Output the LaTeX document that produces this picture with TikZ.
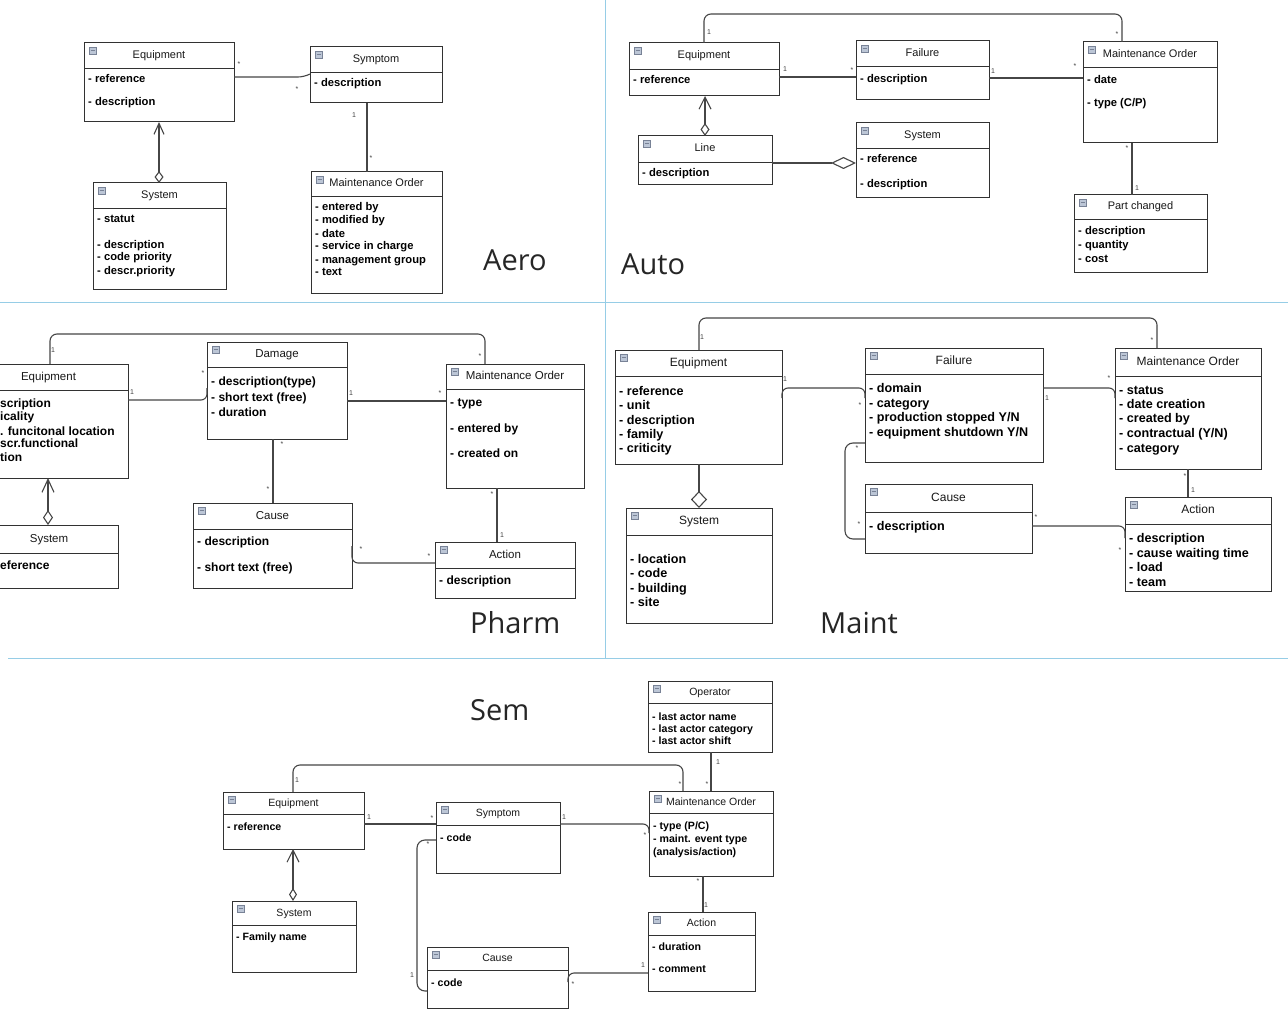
\documentclass[tikz,border=0pt]{standalone}
\usepackage{fontspec}
\setmainfont{Liberation Sans}
\newfontfamily\paneltitlefont{Open Sans}
\usetikzlibrary{arrows.meta,calc}
\definecolor{boxcol}{RGB}{50,50,50}
\definecolor{linecol}{RGB}{70,70,70}
\definecolor{divcol}{RGB}{150,205,230}
\definecolor{iconfill}{RGB}{188,198,214}
\definecolor{icondraw}{RGB}{120,130,150}
\newcommand\tsz{11}
\newcommand\asz{11}
\newcommand\attrx{4}
\tikzset{
 cls/.style={draw=boxcol, line width=1pt, inner sep=0pt, outer sep=0pt, fill=white},
 ttl/.style={inner sep=0pt, font=\fontsize{\tsz}{\tsz}\selectfont, text height=8pt, text depth=2pt, text=black!90},
 attr/.style={inner sep=0pt, font=\fontsize{\asz}{\asz}\selectfont\bfseries, text height=8pt, text depth=2pt, text=black},
 mult/.style={inner sep=0pt, font=\fontsize{7}{7}\selectfont, text=black!75},
 conn/.style={draw=linecol, line width=1.1pt, rounded corners=6pt},
 ptitle/.style={inner sep=0pt, anchor=base west, font=\paneltitlefont\fontsize{29}{29}\selectfont, text=black!85},
 divider/.style={draw=divcol, line width=1pt},
 aggA/.style={{Diamond[open,length=12pt,width=9pt]}-{Straight Barb[length=11pt,width=10pt]}},
 aggU/.style={{Diamond[open,length=13pt,width=9pt]}-{Straight Barb[length=12pt,width=12pt]}},
 aggP/.style={{Diamond[open,length=15pt,width=10pt]}-{Straight Barb[length=13pt,width=12pt]}},
 aggS/.style={{Diamond[open,length=13pt,width=8pt]}-{Straight Barb[length=12pt,width=12pt]}},
 dmdU/.style={-{Diamond[open,length=25pt,width=12pt]}},
 dmdM/.style={{Diamond[open,length=17pt,width=16pt]}-},
}
% #1 name, #2 x, #3 y, #4 w, #5 h, #6 header height, #7 title, #8 list y/text
\newcommand\ucls[8]{%
 \node[cls, minimum width=#4pt, minimum height=#5pt, anchor=north west] (#1) at (#2,#3) {};
 \draw[boxcol, line width=0.9pt] ($(#1.north west)+(0,#6)$) -- ($(#1.north east)+(0,#6)$);
 \node[ttl] (#1-t) at ($(#1.north)+(0,#6/2)$) {#7};
 \fill[iconfill, draw=icondraw, line width=0.4pt] ($(#1.north west)+(5,4)$) rectangle ++(7,7);
 \draw[icondraw, line width=0.7pt] ($(#1.north west)+(6.5,7.5)$) -- ++(4,0);
 \foreach \aY/\aT in {#8} {\node[attr, anchor=west] at (#2+\attrx, \aY) {\aT};}
}
\newcommand\ml[3]{\node[mult] at (#1,#2) {#3};}
\begin{document}
\begin{tikzpicture}[x=1pt,y=-1pt]
\useasboundingbox (0,0) rectangle (1288,1011);
\clip (0,0) rectangle (1288,1011);
\fill[white] (0,0) rectangle (1288,1011);

% dividers
\draw[divider] (605,0) -- (605,658);
\draw[divider] (0,302) -- (1288,302);
\draw[divider] (8,658) -- (1288,658);

% ================= Aero
\renewcommand\tsz{11}\renewcommand\asz{11.2}
\ucls{aEq}{84}{43}{150}{79}{25}{Equipment}{80/- reference, 103/- description}
\ucls{aSym}{310}{47}{132}{56}{25}{Symptom}{84/- description}
\ucls{aSys}{93}{183}{133}{106}{25}{System}{220/- statut, 245/- description, 258/- code priority, 271/- descr.priority}
\ucls{aMO}{311}{172}{131}{121}{24}{Maintenance Order}{208/- entered by, 221/- modified by, 234/- date, 247/- service in charge, 260/- management group, 273/- text}
\draw[conn] (aEq.east |- 0,77) -- (304,77) -- (aSym.west |- 0,74);
\draw[conn] (367,0 |- aSym.south) -- (367,0 |- aMO.north);
\draw[conn, aggA] (159,0 |- aSys.north) -- (159,0 |- aEq.south);
\ml{239}{64}{*}\ml{297}{89}{*}\ml{354}{115}{1}\ml{371}{158}{*}
\node[ptitle] (tAero) at (483,270) {Aero};

% ================= Auto
\renewcommand\tsz{11}\renewcommand\asz{11.2}
\ucls{uEq}{629}{43}{150}{53}{26}{Equipment}{81/- reference}
\ucls{uFa}{856}{41}{133}{59}{25}{Failure}{80/- description}
\ucls{uSys}{856}{123}{133}{75}{25}{System}{160/- reference, 185/- description}
\ucls{uLine}{638}{136}{134}{49}{26}{Line}{174/- description}
\ucls{uMO}{1083}{42}{134}{101}{25}{Maintenance Order}{81/- date, 104/{- type (C/P)}}
\ucls{uPart}{1074}{195}{133}{77}{24}{Part changed}{232/- description, 245/- quantity, 259/- cost}
\draw[conn, rounded corners=7pt] (uEq.north) -- (uEq.north |- 0,14) -- (1122,14) -- (1122,0 |- uMO.north);
\draw[conn] (uEq.east |- 0,77) -- (uFa.west |- 0,77);
\draw[conn] (uFa.east |- 0,78) -- (uMO.west |- 0,78);
\draw[conn, aggU] (uLine.north) -- (uLine.north |- uEq.south);
\draw[conn, dmdU] (uLine.east |- 0,163) -- (uSys.west |- 0,163);
\draw[conn] (1132,0 |- uMO.south) -- (1132,0 |- uPart.north);
\ml{709}{32}{1}\ml{1117}{34}{*}\ml{785}{69}{1}\ml{852}{70}{*}\ml{993}{71}{1}\ml{1075}{66}{*}\ml{1127}{148}{*}\ml{1137}{188}{1}
\node[ptitle] (tAuto) at (621,275) {Auto};

% ================= Pharm
\renewcommand\tsz{11.5}\renewcommand\asz{12}
\renewcommand\attrx{31}
\ucls{pEq}{-31}{364}{159}{114}{26}{Equipment}{404/scription, 417/icality, 432/. funcitonal location, 444/scr.functional, 458/tion}
\renewcommand\attrx{20}
\ucls{pSy}{-20}{525}{138}{63}{28}{System}{566/eference}
\renewcommand\attrx{4}
\ucls{pDa}{207}{342}{140}{97}{25}{Damage}{382/- description(type), 398/- short text (free), 413/- duration}
\ucls{pCa}{193}{503}{159}{85}{26}{Cause}{542/- description, 568/- short text (free)}
\ucls{pMO}{446}{364}{138}{124}{25}{Maintenance Order}{403/- type, 429/- entered by, 454/- created on}
\ucls{pAc}{435}{542}{140}{56}{26}{Action}{581/- description}
\draw[conn, rounded corners=7pt] (50,0 |- pEq.north) -- (50,334) -- (485,334) -- (485,0 |- pMO.north);
\draw[conn] (pEq.east |- 0,400) -- (207,400) -- (pDa.west |- 0,388);
\draw[conn] (pDa.east |- 0,401) -- (pMO.west |- 0,401);
\draw[conn] (273,0 |- pDa.south) -- (273,0 |- pCa.north);
\draw[conn] (pCa.east |- 0,546) -- (352,563) -- (pAc.west |- 0,563);
\draw[conn] (497,0 |- pMO.south) -- (497,0 |- pAc.north);
\draw[conn, aggP] (48,0 |- pSy.north) -- (48,0 |- pEq.south);
\ml{53}{350}{1}\ml{480}{356}{*}\ml{132}{392}{1}\ml{203}{373}{*}\ml{351}{393}{1}\ml{440}{393}{*}
\ml{282}{444}{*}\ml{268}{489}{*}\ml{361}{549}{*}\ml{429}{556}{*}\ml{492}{494}{*}\ml{502}{535}{1}
\node[ptitle] (tPharm) at (470,633) {Pharm};

% ================= Maint
\renewcommand\tsz{12}\renewcommand\asz{12.6}
\ucls{mEq}{615}{350}{167}{114}{26}{Equipment}{392/- reference, 406/- unit, 421/- description, 435/- family, 449/- criticity}
\ucls{mSy}{626}{508}{146}{115}{27}{System}{560/- location, 574/- code, 589/- building, 603/- site}
\ucls{mFa}{865}{348}{178}{114}{26}{Failure}{389/- domain, 404/- category, 418/{- production stopped Y/N}, 433/{- equipment shutdown Y/N}}
\ucls{mCa}{865}{484}{167}{69}{28}{Cause}{527/- description}
\ucls{mMO}{1115}{348}{146}{121}{28}{Maintenance Order}{391/- status, 405/- date creation, 419/- created by, 434/{- contractual (Y/N)}, 449/- category}
\ucls{mAc}{1125}{497}{146}{94}{27}{Action}{539/- description, 554/- cause waiting time, 568/- load, 583/- team}
\draw[conn, rounded corners=7pt] (699,0 |- mEq.north) -- (699,318) -- (1157,318) -- (1157,0 |- mMO.north);
\draw[conn] (mEq.east |- 0,398) -- (782,388) -- (865,388) -- (mFa.west |- 0,398);
\draw[conn] (mFa.east |- 0,388) -- (1115,388) -- (mMO.west |- 0,398);
\draw[conn, rounded corners=8pt] (mFa.west |- 0,443) -- (845,443) -- (845,539) -- (mCa.west |- 0,539);
\draw[conn] (mCa.east |- 0,526) -- (1125,526) -- (mAc.west |- 0,538);
\draw[conn] (1188,0 |- mMO.south) -- (1188,0 |- mAc.north);
\draw[conn, dmdM] (699,0 |- mSy.north) -- (699,0 |- mEq.south);
\ml{702}{337}{1}\ml{1152}{340}{*}\ml{785}{379}{1}\ml{860}{405}{*}\ml{1047}{398}{1}\ml{1109}{378}{*}
\ml{857}{448}{*}\ml{859}{524}{*}\ml{1036}{517}{*}\ml{1120}{550}{*}\ml{1185}{476}{*}\ml{1193}{490}{1}
\node[ptitle] (tMaint) at (820,633) {Maint};

% ================= Sem
\renewcommand\tsz{10.5}\renewcommand\asz{10.6}
\ucls{sEq}{223}{792}{141}{57}{22}{Equipment}{827/- reference}
\ucls{sSym}{436}{802}{124}{71}{23}{Symptom}{838/- code}
\ucls{sSys}{232}{901}{124}{71}{24}{System}{937/- Family name}
\ucls{sCa}{427}{947}{141}{61}{23}{Cause}{983/- code}
\ucls{sOp}{648}{681}{124}{71}{22}{Operator}{717/- last actor name, 729/- last actor category, 741/- last actor shift}
\ucls{sMO}{649}{791}{124}{85}{22}{Maintenance Order}{826/{- type (P/C)}, 839/- maint. event type, 852/{(analysis/action)}}
\ucls{sAc}{648}{912}{107}{79}{23}{Action}{947/- duration, 969/- comment}
\draw[conn, rounded corners=7pt] (293,0 |- sEq.north) -- (293,765) -- (683,765) -- (683,0 |- sMO.north);
\draw[conn] (711,0 |- sOp.south) -- (711,0 |- sMO.north);
\draw[conn] (sEq.east |- 0,824) -- (sSym.west |- 0,824);
\draw[conn] (sSym.east |- 0,824) -- (649,824) -- (sMO.west |- 0,833);
\draw[conn, rounded corners=8pt] (sSym.west |- 0,840) -- (417,840) -- (417,991) -- (sCa.west |- 0,991);
\draw[conn] (sCa.east |- 0,982) -- (568,973) -- (sAc.west |- 0,973);
\draw[conn] (703,0 |- sMO.south) -- (703,0 |- sAc.north);
\draw[conn, aggS] (293,0 |- sSys.north) -- (293,0 |- sEq.south);
\ml{297}{780}{1}\ml{680}{784}{*}\ml{718}{762}{1}\ml{707}{784}{*}\ml{369}{817}{1}\ml{432}{818}{*}
\ml{564}{817}{1}\ml{645}{835}{*}\ml{428}{844}{*}\ml{412}{975}{1}\ml{643}{965}{1}\ml{573}{984}{*}
\ml{698}{881}{*}\ml{706}{905}{1}
\node[ptitle] (tSem) at (470,720) {Sem};
\end{tikzpicture}
\end{document}
